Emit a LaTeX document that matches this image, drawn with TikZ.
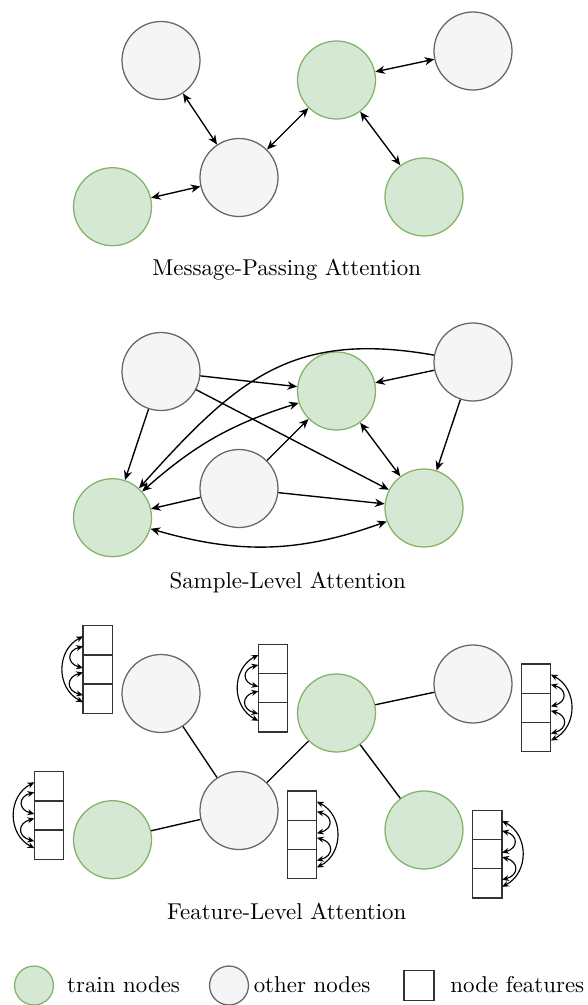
\documentclass[tikz,border=0pt]{standalone}
\usetikzlibrary{arrows.meta,calc}
\definecolor{trainfill}{HTML}{D5E8D4}
\definecolor{trainline}{HTML}{82B366}
\definecolor{otherfill}{HTML}{F5F5F5}
\definecolor{otherline}{HTML}{666666}
\definecolor{featline}{HTML}{333333}
\tikzset{
  gnode/.style={circle, minimum size=34.06pt, inner sep=0pt, line width=0.55pt},
  train/.style={gnode, fill=trainfill, draw=trainline},
  other/.style={gnode, fill=otherfill, draw=otherline},
  feat/.style={rectangle, draw=featline, fill=white, minimum width=12.8pt, minimum height=12.75pt, inner sep=0pt, outer sep=0pt, line width=0.55pt},
  edge/.style={line width=0.6pt, black},
  uni/.style={edge, -{Stealth[length=4.2pt,width=3.6pt]}},
  bi/.style={edge, {Stealth[length=4.2pt,width=3.6pt]}-{Stealth[length=4.2pt,width=3.6pt]}},
  fbi/.style={line width=0.5pt, {Stealth[length=3pt,width=2.6pt]}-{Stealth[length=3pt,width=2.6pt]}},
  title/.style={inner sep=0pt, anchor=base},
  legtext/.style={inner sep=0pt, anchor=base west},
}
\newcommand\featleft[3]{%
  \node[feat] (#1a) at (#2,-#3) {};
  \node[feat,anchor=north] (#1b) at (#1a.south) {};
  \node[feat,anchor=north] (#1c) at (#1b.south) {};
  \draw[fbi] ($(#1a.west)+(0,4)$) .. controls +(-27,-14) and +(-27,14) .. ($(#1c.west)+(0,-3.5)$);
  \draw[fbi] ($(#1a.west)+(0,-6)$) to[out=195,in=165,looseness=2] ($(#1b.west)+(0,1.5)$);
  \draw[fbi] ($(#1b.west)+(0,-3)$) to[out=195,in=165,looseness=2] ($(#1c.west)+(0,3.5)$);
}
\newcommand\featright[3]{%
  \node[feat] (#1a) at (#2,-#3) {};
  \node[feat,anchor=north] (#1b) at (#1a.south) {};
  \node[feat,anchor=north] (#1c) at (#1b.south) {};
  \draw[fbi] ($(#1a.east)+(0,4)$) .. controls +(27,-14) and +(27,14) .. ($(#1c.east)+(0,-3.5)$);
  \draw[fbi] ($(#1a.east)+(0,-6)$) to[out=-15,in=15,looseness=2] ($(#1b.east)+(0,1.5)$);
  \draw[fbi] ($(#1b.east)+(0,-3)$) to[out=-15,in=15,looseness=2] ($(#1c.east)+(0,3.5)$);
}
\begin{document}
\begin{tikzpicture}[x=0.4367pt, y=0.4367pt]
\path[use as bounding box] (0,0) rectangle (588,-1005);

% ---------- Message-Passing Attention ----------
\node[other] (A) at (161,-60.5) {};
\node[train] (B) at (336.5,-80) {};
\node[other] (C) at (473,-51) {};
\node[other] (D) at (239,-177.5) {};
\node[train] (E) at (112.5,-206.7) {};
\node[train] (F) at (424,-197) {};
\draw[bi] (A) -- (D);
\draw[bi] (D) -- (B);
\draw[bi] (B) -- (C);
\draw[bi] (B) -- (F);
\draw[bi] (E) -- (D);
\node[title] (t1) at (286.7,-275.7) {Message-Passing Attention};

% ---------- Sample-Level Attention ----------
\node[other] (A2) at (161,-371.5) {};
\node[train] (B2) at (336.5,-391) {};
\node[other] (C2) at (473,-362) {};
\node[other] (D2) at (239,-488.5) {};
\node[train] (E2) at (112.5,-517.7) {};
\node[train] (F2) at (424,-508) {};
\draw[uni] (A2) -- (B2);
\draw[uni] (A2) -- (F2);
\draw[uni] (A2) -- (E2);
\draw[uni] (C2) -- (B2);
\draw[uni] (C2) -- (F2);
\draw[uni] (C2) to[out=170,in=48,looseness=1.15] (E2);
\draw[bi] (E2) to[bend left=12] (B2);
\draw[uni] (D2) -- (B2);
\draw[uni] (D2) -- (E2);
\draw[uni] (D2) -- (F2);
\draw[bi] (B2) -- (F2);
\draw[bi] (E2) to[bend right=18] (F2);
\node[title] (t2) at (287.7,-588.3) {Sample-Level Attention};

% ---------- Feature-Level Attention ----------
\node[other] (A3) at (161,-693.5) {};
\node[train] (B3) at (336.5,-713) {};
\node[other] (C3) at (473,-684) {};
\node[other] (D3) at (239,-810.5) {};
\node[train] (E3) at (112.5,-839.7) {};
\node[train] (F3) at (424,-830) {};
\draw[edge] (A3) -- (D3);
\draw[edge] (D3) -- (B3);
\draw[edge] (B3) -- (C3);
\draw[edge] (B3) -- (F3);
\draw[edge] (E3) -- (D3);
\featleft{fa}{97.7}{640.3}
\featleft{fb}{273}{658.9}
\featleft{fe}{49}{786.3}
\featright{fd}{302.2}{805.6}
\featright{fc}{536.2}{678.6}
\featright{ff}{487.4}{824.9}
\node[title] (t3) at (286.7,-919) {Feature-Level Attention};

% ---------- Legend ----------
\node[train, minimum size=17pt] (lg1) at (34,-985.5) {};
\node[legtext] (lt1) at (66.7,-992) {train nodes};
\node[other, minimum size=17pt] (lg2) at (229,-985.5) {};
\node[legtext] (lt2) at (253.3,-992) {other nodes};
\node[feat, minimum width=13.1pt, minimum height=13.1pt] (lg3) at (419,-985.7) {};
\node[legtext] (lt3) at (450,-992) {node features};
\end{tikzpicture}
\end{document}
